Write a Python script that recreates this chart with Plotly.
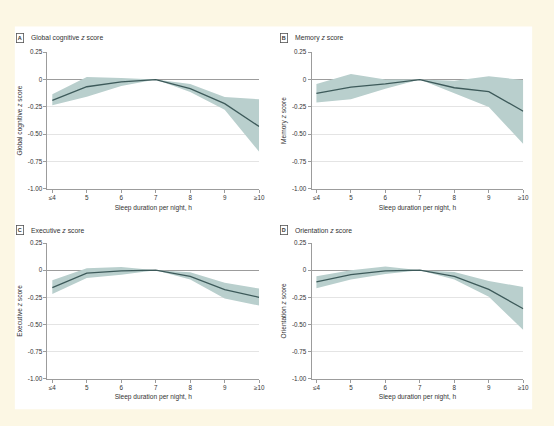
"""Sleep duration vs cognitive z scores, four-panel line + CI band chart."""
import plotly.graph_objects as go

W, H = 554, 426

sleep_hours = ["≤4", "5", "6", "7", "8", "9", "≥10"]

global_est = [-0.19, -0.066, -0.022, 0.0, -0.084, -0.22, -0.43]
global_hi = [-0.135, 0.024, 0.015, 0.0, -0.04, -0.16, -0.18]
global_lo = [-0.235, -0.157, -0.06, 0.0, -0.115, -0.277, -0.66]

memory_est = [-0.127, -0.07, -0.04, 0.0, -0.075, -0.11, -0.29]
memory_hi = [-0.04, 0.05, 0.0, 0.0, -0.01, 0.03, -0.005]
memory_lo = [-0.21, -0.18, -0.085, 0.0, -0.125, -0.25, -0.59]

exec_est = [-0.16, -0.027, -0.006, 0.0, -0.057, -0.18, -0.25]
exec_hi = [-0.093, 0.018, 0.03, 0.0, -0.02, -0.117, -0.17]
exec_lo = [-0.22, -0.072, -0.042, 0.0, -0.087, -0.26, -0.326]

orient_est = [-0.108, -0.042, -0.006, 0.0, -0.057, -0.177, -0.356]
orient_hi = [-0.057, 0.0, 0.033, 0.0, -0.018, -0.1, -0.155]
orient_lo = [-0.167, -0.087, -0.036, 0.0, -0.087, -0.245, -0.55]

y_ticks = [0.25, 0, -0.25, -0.5, -0.75, -1.0]
y_tick_text = ["0.25", "0", "-0.25", "-0.50", "-0.75", "-1.00"]

FONT = "Liberation Sans Narrow, Liberation Sans, Arial"
CREAM = "#fcf7e4"
LINE = "#3d5a5a"
BAND = "#b9cfcd"
AXIS = "#9c9c9c"
GRID = "#e4e4e4"
TEXT = "#333333"

# (letter, title, est, hi, lo, plot box in px: x0, x1, y0, y1)
panels = [
    ("A", "Global cognitive", global_est, global_hi, global_lo, (48, 262, 49, 188)),
    ("B", "Memory", memory_est, memory_hi, memory_lo, (315, 529, 49, 188)),
    ("C", "Executive", exec_est, exec_hi, exec_lo, (48, 262, 243, 381)),
    ("D", "Orientation", orient_est, orient_hi, orient_lo, (315, 529, 243, 381)),
]


def px_x(v):
    return v / W


def px_y(v):
    return 1 - v / H


fig = go.Figure()
xpos = list(range(len(sleep_hours)))
annotations = []
shapes = [
    dict(type="rect", xref="paper", yref="paper", x0=px_x(15), x1=px_x(538),
         y0=px_y(412), y1=px_y(23), fillcolor="white", line_width=0, layer="below"),
]

for i, (letter, title, est, hi, lo, box) in enumerate(panels):
    n = "" if i == 0 else str(i + 1)
    xa, ya = f"x{n}", f"y{n}"
    x0, x1, y0, y1 = box

    fig.add_trace(go.Scatter(x=xpos, y=lo, xaxis=xa, yaxis=ya, mode="lines",
                             line=dict(width=0), hoverinfo="skip", showlegend=False))
    fig.add_trace(go.Scatter(x=xpos, y=hi, xaxis=xa, yaxis=ya, mode="lines",
                             line=dict(width=0), fill="tonexty", fillcolor=BAND,
                             hoverinfo="skip", showlegend=False))
    fig.add_trace(go.Scatter(x=xpos, y=est, xaxis=xa, yaxis=ya, mode="lines",
                             line=dict(color=LINE, width=1.3), showlegend=False))

    fig.layout[f"xaxis{n}"] = dict(
        domain=[px_x(x0), px_x(x1)], anchor=ya, range=[-0.14, 6],
        tickvals=xpos, ticktext=sleep_hours, ticks="outside", ticklen=3,
        tickcolor=AXIS, showline=True, linecolor=AXIS, linewidth=1,
        showgrid=False, zeroline=False,
        tickfont=dict(size=6.3, color=TEXT),
        title=dict(text="Sleep duration per night, h", font=dict(size=6.6, color=TEXT), standoff=4),
    )
    fig.layout[f"yaxis{n}"] = dict(
        domain=[px_y(y1), px_y(y0)], anchor=xa, range=[-1.0, 0.25],
        tickvals=y_ticks, ticktext=y_tick_text, ticks="outside", ticklen=3,
        tickcolor=AXIS, showline=True, linecolor=AXIS, linewidth=1,
        showgrid=True, gridcolor=GRID, gridwidth=0.8,
        zeroline=True, zerolinecolor=AXIS, zerolinewidth=1,
        tickfont=dict(size=6.3, color=TEXT),
        title=dict(text=f"{title} <i>z</i> score", font=dict(size=6.6, color=TEXT), standoff=4),
    )

    ty = y0 - 14 if i < 2 else y0 - 13
    annotations.append(dict(
        xref="paper", yref="paper", x=px_x(x0 - 32), y=px_y(ty), xanchor="left", yanchor="middle",
        text=f"<b>{letter}</b>", showarrow=False, font=dict(size=5.5, color=TEXT),
        bordercolor="#555", borderwidth=0.8, borderpad=1,
    ))
    annotations.append(dict(
        xref="paper", yref="paper", x=px_x(x0 - 19), y=px_y(ty), xanchor="left", yanchor="middle",
        text=f"{title} <i>z</i> score", showarrow=False, font=dict(size=6.8, color=TEXT),
    ))

fig.update_layout(
    width=W, height=H, margin=dict(l=0, r=0, t=0, b=0),
    paper_bgcolor=CREAM, plot_bgcolor="rgba(0,0,0,0)",
    font=dict(family=FONT, color=TEXT),
    shapes=shapes, annotations=annotations, showlegend=False,
)

fig.write_html(
    "out.html",
    config={"displayModeBar": False},
    post_script=f"document.body.style.margin='0';document.body.style.background='{CREAM}';",
)
